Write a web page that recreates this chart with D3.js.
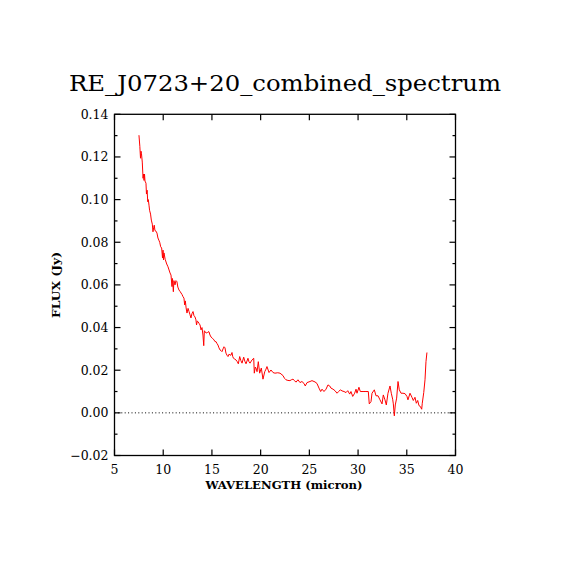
<!DOCTYPE html>
<meta charset="utf-8">
<body style="margin:0;background:#fff">
<style>
  text { font-family: "DejaVu Serif", serif; fill: #000; }
  .frame { fill: none; stroke: #000; stroke-width: 1.3px; }
  .tick { stroke: #000; stroke-width: 1.2px; }
  .spec { fill: none; stroke: #f00; stroke-width: 1px; }
</style>
<script src="https://d3js.org/d3.v7.min.js"></script>
<script>
  // spectrum
  var wavelength = [7.51,7.60,7.67,7.72,7.77,7.85,7.93,7.98,8.03,8.08,8.13,8.23,8.28,8.35,8.41,8.47,8.54,8.60,8.70,8.78,
    8.88,8.95,9.02,9.08,9.15,9.26,9.36,9.46,9.55,9.64,9.74,9.84,9.93,9.98,10.03,10.08,10.20,10.36,10.49,10.60,
    10.70,10.80,10.90,10.95,11.04,11.10,11.21,11.31,11.41,11.50,11.62,11.72,11.83,11.93,12.03,12.13,12.20,12.27,12.35,12.44,
    12.55,12.65,12.75,12.85,12.95,13.06,13.16,13.26,13.36,13.42,13.50,13.57,13.67,13.78,13.88,13.98,14.08,14.16,14.22,14.29,
    14.40,14.49,14.60,14.70,14.80,14.90,15.05,15.21,15.32,15.42,15.52,15.62,15.72,15.83,15.93,16.03,16.14,16.24,16.34,16.44,
    16.55,16.65,16.75,16.85,16.95,17.06,17.13,17.21,17.35,17.47,17.60,17.71,17.85,17.97,18.09,18.26,18.38,18.50,18.70,18.80,
    18.91,19.11,19.29,19.35,19.45,19.52,19.63,19.76,19.90,20.07,20.24,20.42,20.55,20.65,20.86,21.06,21.27,21.47,21.75,21.99,
    22.29,22.45,22.60,22.80,23.01,23.15,23.32,23.50,23.63,23.83,24.04,24.24,24.45,24.58,24.76,25.07,25.27,25.58,25.78,25.99,
    26.16,26.30,26.50,26.71,26.91,27.09,27.22,27.43,27.63,27.84,28.01,28.18,28.35,28.56,28.76,28.94,29.14,29.27,29.45,29.65,
    29.79,29.89,30.09,30.23,30.51,30.81,31.05,31.15,31.33,31.43,31.67,31.84,32.05,32.25,32.46,32.59,32.76,32.90,33.07,33.28,
    33.41,33.55,33.62,33.72,33.82,33.96,34.10,34.23,34.41,34.61,34.82,35.02,35.12,35.33,35.53,35.67,35.84,35.98,36.12,36.25,
    36.39,36.53,36.59,36.74,36.87,36.97,37.07];
  var flux = [0.1302,0.1250,0.1194,0.1227,0.1215,0.1176,0.1100,0.1120,0.1090,0.1120,0.1087,0.1077,0.1026,0.1044,0.0990,0.1000,0.0974,0.0950,0.0932,0.0904,
    0.0885,0.0849,0.0870,0.0880,0.0855,0.0852,0.0843,0.0820,0.0810,0.0800,0.0779,0.0773,0.0726,0.0763,0.0717,0.0750,0.0720,0.0698,0.0685,0.0670,
    0.0656,0.0646,0.0592,0.0630,0.0568,0.0620,0.0600,0.0620,0.0615,0.0590,0.0576,0.0570,0.0562,0.0555,0.0545,0.0538,0.0506,0.0525,0.0492,0.0468,
    0.0490,0.0475,0.0460,0.0445,0.0465,0.0475,0.0455,0.0450,0.0436,0.0412,0.0430,0.0428,0.0420,0.0412,0.0389,0.0400,0.0365,0.0315,0.0385,0.0380,
    0.0375,0.0375,0.0380,0.0380,0.0365,0.0356,0.0350,0.0342,0.0334,0.0334,0.0325,0.0318,0.0305,0.0295,0.0292,0.0287,0.0300,0.0310,0.0305,0.0280,
    0.0270,0.0264,0.0275,0.0272,0.0270,0.0283,0.0265,0.0256,0.0252,0.0248,0.0240,0.0230,0.0264,0.0245,0.0233,0.0261,0.0242,0.0230,0.0256,0.0240,
    0.0233,0.0248,0.0256,0.0186,0.0215,0.0210,0.0193,0.0240,0.0186,0.0210,0.0158,0.0193,0.0205,0.0217,0.0189,0.0201,0.0189,0.0186,0.0188,0.0186,
    0.0175,0.0162,0.0155,0.0152,0.0151,0.0155,0.0158,0.0150,0.0144,0.0155,0.0142,0.0147,0.0138,0.0126,0.0142,0.0147,0.0151,0.0145,0.0138,0.0116,
    0.0100,0.0111,0.0100,0.0111,0.0131,0.0126,0.0116,0.0111,0.0104,0.0092,0.0100,0.0108,0.0103,0.0100,0.0095,0.0104,0.0088,0.0100,0.0077,0.0092,
    0.0111,0.0092,0.0120,0.0100,0.0100,0.0100,0.0100,0.0042,0.0053,0.0092,0.0108,0.0080,0.0080,0.0061,0.0042,0.0084,0.0061,0.0037,0.0092,0.0126,
    0.0092,0.0064,0.0042,-0.0014,0.0037,0.0069,0.0147,0.0108,0.0092,0.0092,0.0090,0.0077,0.0061,0.0092,0.0073,0.0058,0.0073,0.0045,0.0058,0.0034,
    0.0030,0.0017,0.0045,0.0095,0.0155,0.0240,0.0283];

  var xTicks = [5,10,15,20,25,30,35,40];
  var yTicks = [-0.02,0.00,0.02,0.04,0.06,0.08,0.10,0.12,0.14];
  var yMinor = [-0.01,0.01,0.03,0.05,0.07,0.09,0.11,0.13];

  var width = 570, height = 570;
  var pLeft = 114.5, pRight = 455.5, pTop = 114.3, pBottom = 455.5;

  var x = d3.scaleLinear().domain([5, 40]).range([pLeft, pRight]);
  var y = d3.scaleLinear().domain([-0.02, 0.14]).range([pBottom, pTop]);

  var svg = d3.select("body").append("svg")
    .attr("width", width)
    .attr("height", height);

  // zero line
  svg.append("line")
    .attr("x1", x(5)).attr("x2", x(40))
    .attr("y1", y(0)).attr("y2", y(0))
    .attr("stroke", "#000").attr("stroke-width", 1)
    .attr("stroke-dasharray", "1,2.4");

  // spectrum
  var pts = wavelength.map(function(w, i) { return [w, flux[i]]; });
  svg.append("path")
    .datum(pts)
    .attr("class", "spec")
    .attr("d", d3.line().x(function(d) { return x(d[0]); }).y(function(d) { return y(d[1]); }));

  // ticks, inward on all four sides
  var tk = svg.append("g");
  xTicks.forEach(function(v) {
    tk.append("line").attr("class", "tick")
      .attr("x1", x(v)).attr("x2", x(v)).attr("y1", pBottom).attr("y2", pBottom - 6);
    tk.append("line").attr("class", "tick")
      .attr("x1", x(v)).attr("x2", x(v)).attr("y1", pTop).attr("y2", pTop + 6);
  });
  yTicks.forEach(function(v) {
    tk.append("line").attr("class", "tick")
      .attr("x1", pLeft).attr("x2", pLeft + 6).attr("y1", y(v)).attr("y2", y(v));
    tk.append("line").attr("class", "tick")
      .attr("x1", pRight).attr("x2", pRight - 6).attr("y1", y(v)).attr("y2", y(v));
  });
  yMinor.forEach(function(v) {
    tk.append("line").attr("class", "tick")
      .attr("x1", pLeft).attr("x2", pLeft + 3).attr("y1", y(v)).attr("y2", y(v));
    tk.append("line").attr("class", "tick")
      .attr("x1", pRight).attr("x2", pRight - 3).attr("y1", y(v)).attr("y2", y(v));
  });

  svg.append("rect").attr("class", "frame")
    .attr("x", pLeft).attr("y", pTop)
    .attr("width", pRight - pLeft).attr("height", pBottom - pTop);

  // tick labels
  svg.append("g").selectAll("text")
    .data(xTicks).enter().append("text")
    .attr("x", function(d) { return x(d); })
    .attr("y", pBottom + 18)
    .attr("text-anchor", "middle")
    .style("font-size", "12.5px")
    .text(function(d) { return d; });

  svg.append("g").selectAll("text")
    .data(yTicks).enter().append("text")
    .attr("x", pLeft - 6)
    .attr("y", function(d) { return y(d) + 4.5; })
    .attr("text-anchor", "end")
    .style("font-size", "12.5px")
    .text(function(d) { return d < 0 ? "\u2212" + Math.abs(d).toFixed(2) : d.toFixed(2); });

  // titles
  svg.append("text")
    .attr("x", 285).attr("y", 91)
    .attr("text-anchor", "middle")
    .attr("textLength", 432).attr("lengthAdjust", "spacingAndGlyphs")
    .style("font-size", "23px")
    .text("RE_J0723+20_combined_spectrum");

  svg.append("text")
    .attr("x", 284).attr("y", 489)
    .attr("text-anchor", "middle")
    .attr("textLength", 157).attr("lengthAdjust", "spacingAndGlyphs")
    .style("font-size", "11.5px").style("font-weight", "bold")
    .text("WAVELENGTH (micron)");

  svg.append("text")
    .attr("transform", "translate(60,285) rotate(-90)")
    .attr("text-anchor", "middle")
    .attr("textLength", 66).attr("lengthAdjust", "spacingAndGlyphs")
    .style("font-size", "11.5px").style("font-weight", "bold")
    .text("FLUX (Jy)");
</script>
</body>
